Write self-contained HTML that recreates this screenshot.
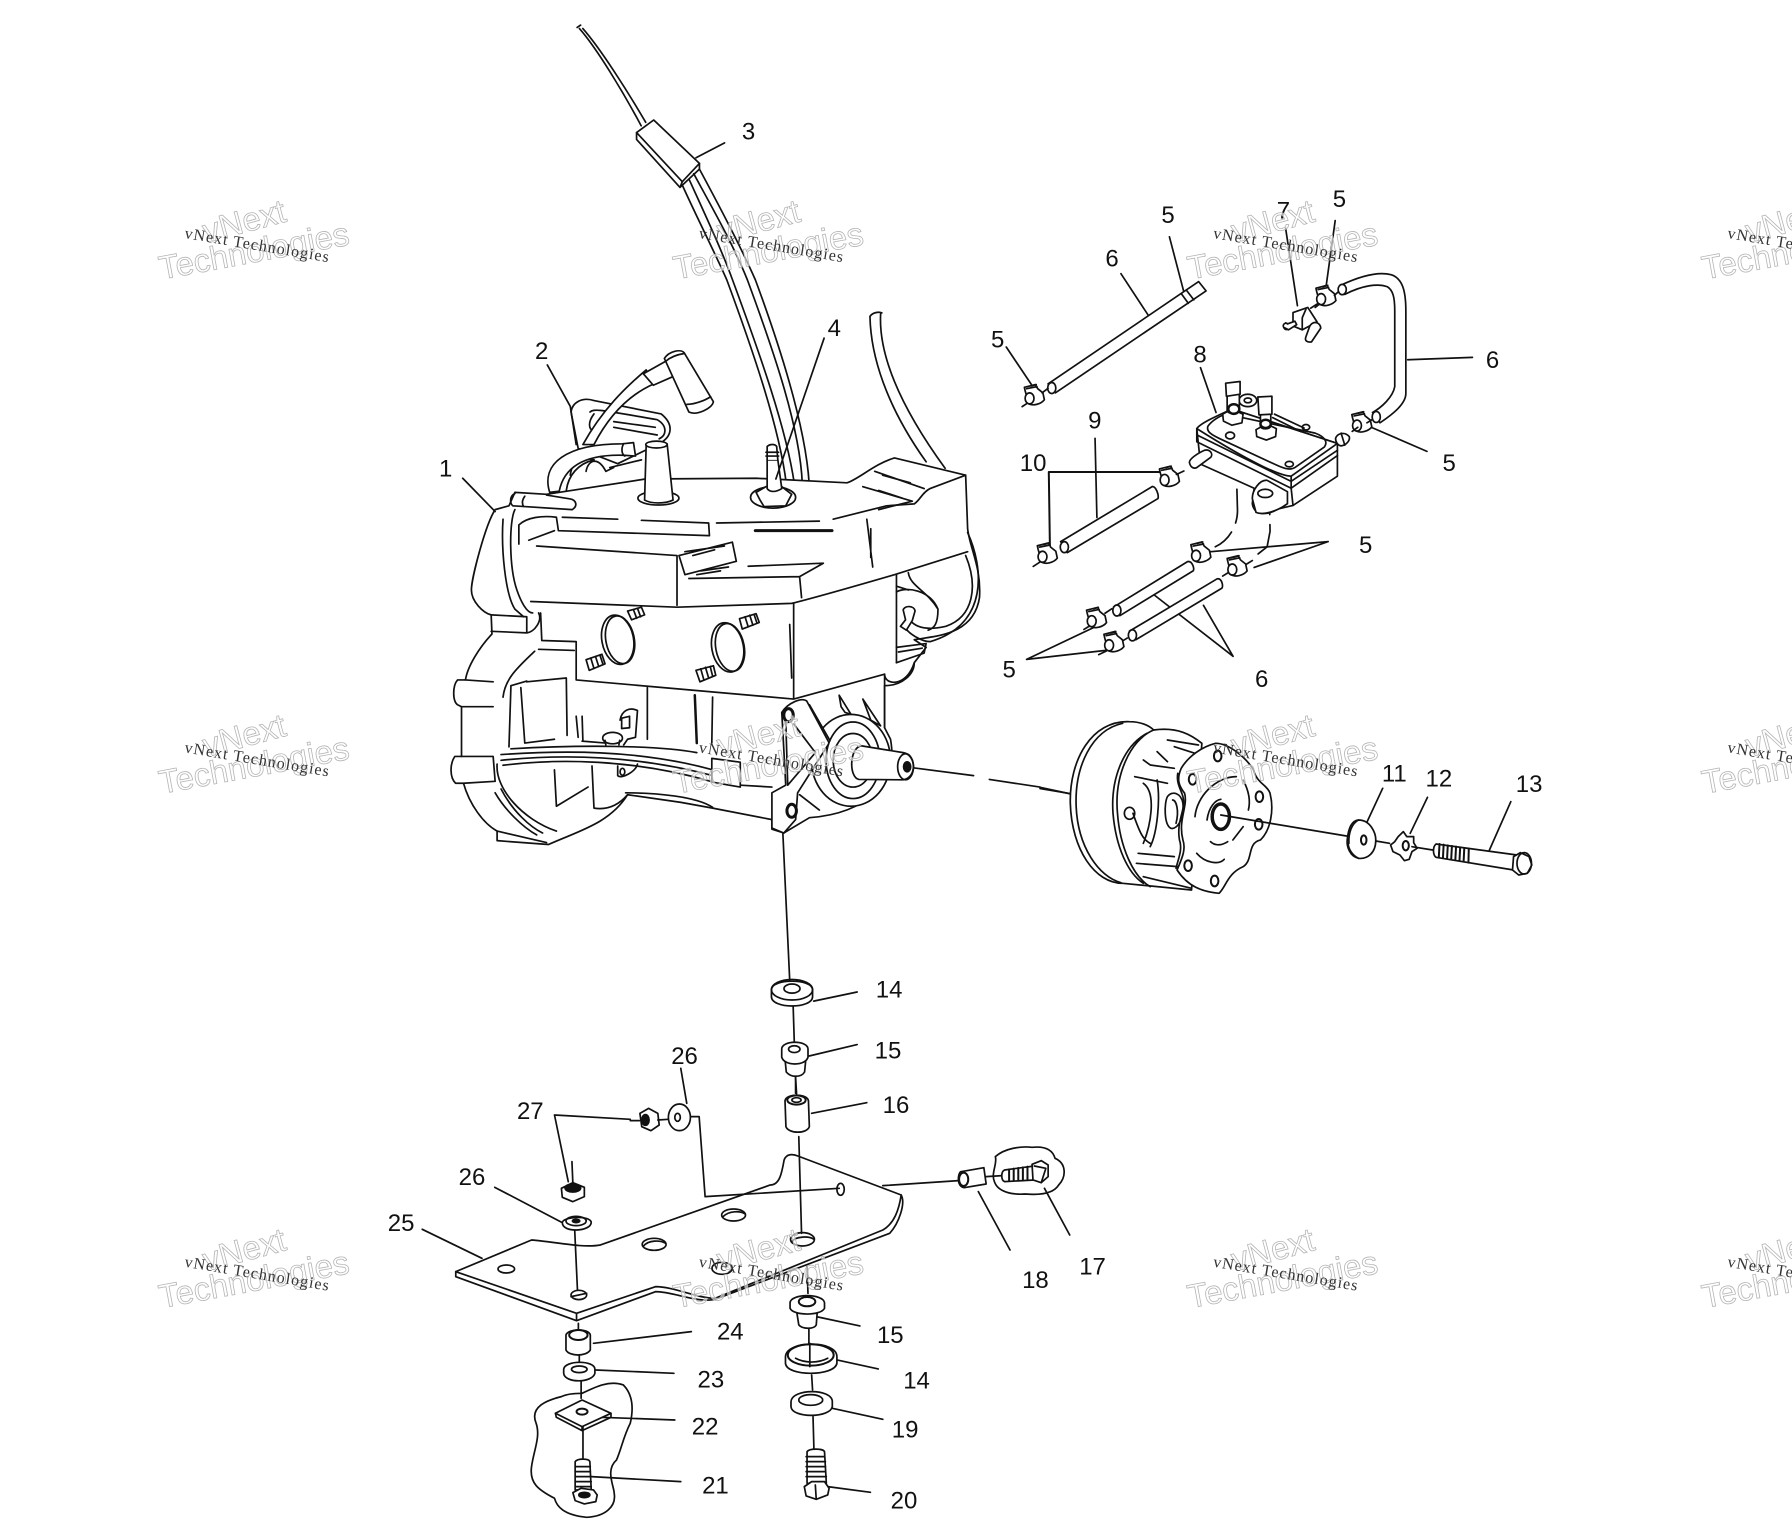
<!DOCTYPE html>
<html><head><meta charset="utf-8"><style>
html,body{margin:0;padding:0;background:#fff}
svg{display:block}
path,ellipse,line,polygon,polyline,rect,circle{vector-effect:non-scaling-stroke}
.w{fill:#fff}
.k{fill:#111}
.lab{font-family:"Liberation Sans",sans-serif;font-size:21px;fill:#111;stroke:none;text-anchor:middle}
.big{font-family:"Liberation Sans",sans-serif;font-size:33px;fill:#fff;fill-opacity:.6;stroke:#b5b5b5;stroke-width:.8;text-anchor:middle}
.sm{font-family:"Liberation Serif",serif;font-size:16px;fill:#333;stroke:none}
</style></head><body>
<svg xmlns="http://www.w3.org/2000/svg" width="1792" height="1536" viewBox="0 0 1792 1536">
<defs>
<g id="clamp"><path class="w" d="M-24 -16 L-26 -26 L4 -34 L10 -22 L24 -10 L28 10 C18 24 -4 28 -14 22 Z"/><ellipse class="w" cx="-12" cy="6" rx="12" ry="16"/><path d="M-20 -22 L8 -28 M-8 -30 L6 -34"/></g>
</defs>
<rect width="1792" height="1536" fill="#fff"/>
<g fill="none" stroke="#111" stroke-width="1.7" stroke-linecap="round" stroke-linejoin="round">

<!-- overview group : cable, part 3 -->
<g transform="scale(1.142857)">
<path d="M505 24 L508 22 M507 25 C522 42 545 80 561 110 M510 25 C525 42 548 78 565 107"/>
<path class="w" d="M557 116 L572 105 L612 143 L597 159 Z"/>
<path d="M557 116 L557 122 L595 164 L597 159 M595 164 L612 148 L612 143"/>
<path d="M597 162 C612 195 625 220 636 245 C660 310 682 375 688 423"/>
<path d="M603 157 C618 190 632 220 641 245 C665 310 688 375 695 423"/>
<path d="M607 152 C625 185 642 215 654 245 C678 310 700 375 702 423"/>
<path d="M612 148 C632 185 650 220 661 245 C685 310 705 375 708 423"/>
<line x1="634" y1="125" x2="609" y2="138"/>
</g>

<!-- Z1 engine -->
<g transform="translate(420 280) scale(.3954 .3827)">
<path d="M1138 95 C1140 200 1180 330 1280 475 M1165 88 C1160 180 1200 310 1328 492 M1138 95 C1145 85 1160 82 1168 86"/>
<!-- flange behind -->
<path class="w" d="M382 345 C385 320 410 305 440 315 L610 350 C640 375 640 405 610 425 L500 480 L400 440 Z"/>
<path d="M430 345 C440 335 460 340 600 365 C625 380 625 405 605 415 M490 385 L600 405 M490 370 L595 385 M440 350 C425 370 425 390 440 395 M420 500 C425 470 450 460 470 500 L490 490 M380 510 C385 470 410 460 440 470 M480 490 L560 470"/>
<!-- plug wire -->
<path class="w" d="M412 430 C460 340 520 280 572 235 L590 272 C530 300 480 350 440 430 Z"/>
<path class="w" d="M565 245 L622 212 L645 250 L590 275 Z"/>
<path class="w" d="M618 205 C630 185 660 180 668 190 L742 318 C740 335 700 355 680 345 Z"/>
<path d="M622 212 C635 200 650 195 668 192 M675 325 C695 325 720 315 735 305"/>
<!-- engine body -->
<path class="w" d="M190 600 C165 640 130 780 130 810 C130 840 160 870 180 875 L182 925 C150 960 120 1010 115 1045 L95 1045 C82 1060 82 1100 95 1110 L105 1115 L105 1245 L88 1245 C75 1265 75 1300 90 1315 L110 1315 C125 1370 160 1420 195 1440 L195 1465 L325 1475 C400 1440 480 1420 525 1345 L660 1365 L740 1380 L890 1410 L890 1435 L920 1445 L985 1405 C1050 1400 1110 1380 1150 1340 C1190 1310 1200 1260 1190 1200 L1175 1170 L1175 1060 C1220 1060 1250 1030 1250 1000 L1280 960 L1250 940 C1300 930 1400 930 1415 830 C1420 750 1390 700 1385 650 L1380 510 L1200 465 C1150 480 1110 520 1080 530 L850 518 L570 520 L320 560 L240 555 L225 590 Z"/>
<!-- hose loop -->
<path class="w" d="M328 555 C305 480 370 428 512 428 L540 425 L545 460 L515 458 C420 455 365 485 352 552 Z"/>
<path d="M515 428 C508 440 510 455 518 460 M370 550 C375 510 400 480 440 470"/>
<!-- spout -->
<ellipse class="w" cx="603" cy="570" rx="52" ry="18"/>
<path class="w" d="M572 432 L625 428 L640 575 C620 585 585 585 568 575 Z"/>
<ellipse class="w" cx="598" cy="430" rx="27" ry="9"/>
<!-- fitting 4 -->
<ellipse class="w" cx="893" cy="568" rx="57" ry="28"/>
<path class="w" d="M860 575 L850 555 L875 540 L915 540 L940 560 L925 590 L870 592 Z"/>
<path class="w" d="M878 470 L905 470 L915 545 C900 555 885 555 878 545 Z"/>
<path class="w" d="M878 470 L878 435 C885 428 898 428 902 435 L905 470"/>
<path d="M875 450 L907 450 M875 460 L907 460"/>
<line x1="1022" y1="152" x2="900" y2="520"/>
<!-- head -->
<path d="M210 625 C205 700 215 820 240 860 L262 880 M240 600 C225 630 225 750 245 810 C255 840 270 870 285 870"/>
<path d="M250 690 L250 640 C270 620 310 615 345 620 L350 655 L730 668 M360 620 L500 625 M560 628 L730 635 L732 668 M275 680 L340 655"/>
<path d="M295 695 L650 720 L650 850 M655 720 L790 685 L800 735 L670 770 L655 720 M670 710 L770 695 M690 720 L745 705"/>
<path d="M680 780 L960 775 L1020 740 L830 748 M960 775 L965 830 M710 760 L780 750 M700 770 L760 760"/>
<path d="M235 590 L385 600 C400 590 395 575 380 572 L320 562 M240 558 C225 565 228 585 235 590 M265 565 C258 575 258 585 262 592"/>
<path d="M750 635 L1010 630 M1045 625 L1180 590 L1250 585 C1265 575 1270 555 1290 545 L1380 510"/>
<line x1="848" y1="655" x2="1042" y2="655" stroke-width="3"/>
<path d="M1130 625 L1145 750 M1140 650 L1140 725"/>
<path d="M1120 540 L1245 578 L1160 600 M1150 500 L1275 545 M1170 510 L1240 530 M1160 550 L1220 570"/>
<path d="M280 840 L650 855 L940 845 C1000 830 1100 800 1200 770 L1385 710"/>
<path d="M270 880 L180 875 M180 918 L270 922 L270 880 M270 922 C290 920 310 890 300 870"/>
<!-- block -->
<path d="M305 870 L308 942 L395 945 L395 1045 L945 1095 M945 845 L945 1095 L1175 1030 M1205 770 L1205 1000 M935 900 L940 1040 M300 965 L390 968 M290 970 C250 1010 215 1040 210 1090"/>
<ellipse class="w" cx="500" cy="940" rx="40" ry="65" transform="rotate(-10 500 940)"/>
<ellipse cx="506" cy="940" rx="36" ry="63" transform="rotate(-10 506 940)"/>
<ellipse class="w" cx="778" cy="960" rx="40" ry="65" transform="rotate(-10 778 960)"/>
<ellipse cx="784" cy="960" rx="36" ry="63" transform="rotate(-10 784 960)"/>
<path class="w" d="M525 865 L560 855 L568 875 L535 888 Z"/><path d="M540 862 L548 884 M550 858 L558 880"/>
<path class="w" d="M808 885 L850 872 L858 895 L815 912 Z"/><path d="M822 880 L830 906 M834 876 L842 902 M845 874 L852 896"/>
<path class="w" d="M420 992 L460 978 L468 1003 L428 1020 Z"/><path d="M432 988 L440 1015 M444 984 L452 1010 M455 980 L463 1005"/>
<path class="w" d="M698 1020 L742 1008 L748 1033 L708 1050 Z"/><path d="M710 1016 L718 1045 M722 1012 L730 1040 M734 1010 L740 1035"/>
<!-- right side -->
<path d="M1235 765 C1240 800 1280 810 1310 860 C1310 900 1300 910 1285 915 M1205 800 L1235 810 M1205 815 C1230 800 1290 810 1310 860"/>
<path d="M1385 660 C1425 750 1440 900 1290 945 C1270 945 1235 925 1225 905 M1380 720 C1412 800 1400 880 1330 905 C1300 912 1260 915 1240 890"/>
<path class="w" d="M1222 862 C1225 850 1250 850 1252 865 L1245 890 L1230 915 L1215 905 L1228 888 Z"/>
<path d="M1205 960 L1280 950 L1275 975 L1205 1000 M1210 972 L1270 962"/>
<path d="M1175 1030 C1175 1060 1230 1065 1250 1000"/>
<path d="M1175 1030 L1175 1170"/>
<!-- lower crank -->
<path d="M105 1115 L185 1115 M115 1045 L185 1050 M105 1245 L185 1245 L190 1310 L110 1315"/>
<path d="M270 1050 L370 1040 M230 1060 L225 1220 M255 1065 L265 1210 L340 1200 M230 1060 L270 1048 M370 1040 L372 1190 M575 1065 L575 1200 M740 1090 L738 1210 M395 1140 L400 1195 M410 1140 L412 1205 M410 1205 L470 1210"/>
<line x1="695" y1="1085" x2="700" y2="1210" stroke-width="2.5"/>
<path d="M205 1240 C350 1230 550 1225 740 1280 M205 1255 C350 1240 540 1240 740 1295 M230 1225 C400 1215 600 1215 700 1235 M210 1268 C350 1250 540 1252 735 1310"/>
<path d="M520 1340 C600 1340 700 1350 740 1378 M810 1320 L890 1325"/>
<path d="M506 1150 C510 1125 530 1115 550 1125 L545 1195 L525 1200 L515 1215 M510 1145 L530 1140 L530 1170 L510 1172 Z"/>
<ellipse class="w" cx="487" cy="1197" rx="25" ry="15"/><path d="M468 1203 L470 1215 M505 1203 L503 1215"/>
<path d="M500 1270 L500 1295 C510 1305 545 1285 550 1265"/><ellipse cx="512" cy="1285" rx="6" ry="9"/>
<path class="w" d="M738 1250 L810 1260 L810 1325 L738 1312 Z"/>
<path d="M195 1265 C190 1330 260 1410 345 1440 M205 1330 C235 1390 280 1430 310 1445 M190 1340 C215 1385 260 1430 295 1450 M340 1280 L345 1375 L425 1325 M435 1270 L440 1380 C470 1385 500 1375 525 1345 M195 1440 L320 1470"/>
<!-- PTO -->
<ellipse class="w" cx="1090" cy="1255" rx="100" ry="120"/>
<path class="w" d="M915 1130 C930 1105 965 1090 978 1100 L1035 1210 L955 1340 L950 1410 L920 1445 L890 1432 L890 1340 L925 1320 Z"/>
<ellipse cx="932" cy="1137" rx="12" ry="17" stroke-width="3"/>
<ellipse cx="940" cy="1387" rx="12" ry="17" stroke-width="3"/>
<path d="M985 1110 L1035 1200 M925 1150 L930 1320 L1000 1235 L945 1160 M960 1345 L1010 1385"/>
<path d="M1060 1085 L1090 1135 L1075 1130 L1065 1115 Z M1120 1095 L1165 1165 L1140 1150 Z"/>
<ellipse class="w" cx="1095" cy="1255" rx="68" ry="100"/>
<ellipse cx="1095" cy="1255" rx="50" ry="70"/>
<path class="w" d="M1115 1217 L1222 1235 C1255 1240 1258 1300 1222 1306 L1110 1305 C1085 1300 1085 1225 1115 1217 Z"/>
<ellipse cx="1228" cy="1272" rx="20" ry="34"/>
<ellipse class="k" cx="1232" cy="1272" rx="9" ry="13"/>
<path d="M1250 1275 L1400 1295 M1440 1305 L1568 1325"/>
<line x1="108" y1="518" x2="190" y2="605"/>
<path d="M322 222 L380 330 L395 430"/>
</g>

<!-- continuing centre lines in overview coords -->
<g transform="scale(1.142857)">
<path d="M910 690 L940 695"/>
<path d="M685 729 L691 858 M694 880 L695 912 M696 940 L697 957"/>
<!-- top 14 washer -->
<path class="w" d="M675 866 C675 856 711 856 711 866 L711 872 C711 883 675 883 675 872 Z"/>
<ellipse cx="693" cy="866" rx="18" ry="9"/><ellipse cx="693" cy="865" rx="7" ry="4"/>
<line x1="750" y1="868" x2="712" y2="876"/>
<!-- top 15 -->
<path class="w" d="M687 928 L688 938 C692 943 701 943 704 938 L705 928 Z"/>
<path class="w" d="M684 918 C684 910 707 910 707 918 L707 925 C705 933 686 933 684 925 Z"/>
<ellipse cx="695" cy="918" rx="5" ry="3"/>
<line x1="750" y1="914" x2="708" y2="924"/>
</g>

<!-- Z2 fuel -->
<g transform="translate(960 180) scale(.37 .3444)">
<path d="M566 165 L605 325 M435 272 L512 398 M125 485 L200 605 M880 140 L912 365 M1014 118 L988 320 M650 545 L692 675 M1385 515 L1210 522 M1262 788 L1105 715 M365 750 L370 980 M995 1050 L670 1080 M995 1050 L795 1125 M180 1392 L360 1300 M180 1392 L400 1365 M738 1383 L525 1205 M738 1383 L658 1235"/>
<path d="M545 848 L240 848 L243 1065" stroke-width="2"/>
<!-- tube top -->
<path class="w" d="M238 592 L645 295 L665 322 L258 618 Z"/><ellipse class="w" cx="248" cy="604" rx="11" ry="16"/>
<path d="M598 330 L617 358 M612 320 L632 348"/>
<use href="#clamp" x="200" y="628"/><path d="M168 658 L182 648 M222 618 L238 605"/>
<!-- hose -->
<path class="w" d="M1030 305 C1080 280 1130 265 1165 275 C1195 285 1205 320 1205 380 L1205 620 C1205 650 1170 680 1135 705 L1115 675 C1140 660 1170 630 1175 600 L1175 380 C1175 340 1170 320 1155 310 C1130 300 1090 305 1040 332 Z"/>
<ellipse class="w" cx="1033" cy="318" rx="11" ry="15"/><ellipse class="w" cx="1125" cy="688" rx="11" ry="16"/>
<use href="#clamp" x="988" y="340"/><use href="#clamp" x="1085" y="707"/>
<path d="M1012 335 L1022 325 M1100 705 L1115 695 M1060 730 L1075 718"/>
<!-- valve 7 -->
<path class="w" d="M900 385 L940 370 L965 412 L925 435 L880 415 L875 428 C880 440 895 432 900 420 Z"/>
<path d="M925 400 L935 375 M925 400 L925 435 M948 372 L968 358 M960 370 L972 360"/>
<path class="w" d="M945 425 C955 405 975 415 975 430 L950 470 C940 472 930 468 935 455 Z"/>
<path class="w" d="M875 428 C870 420 880 412 885 418 L905 410 L910 420 L888 435 Z"/>
<!-- tube 9 -->
<path class="w" d="M272 1050 L520 890 C530 890 538 915 535 925 L290 1082 Z"/><ellipse class="w" cx="282" cy="1066" rx="11" ry="16"/>
<use href="#clamp" x="565" y="865"/><use href="#clamp" x="235" y="1088"/>
<path d="M585 855 L605 845 M198 1122 L215 1110"/>
<!-- lower tubes -->
<path class="w" d="M415 1240 L615 1108 C628 1105 635 1130 630 1135 L432 1265 Z"/><ellipse class="w" cx="424" cy="1250" rx="11" ry="16"/>
<path class="w" d="M458 1310 L695 1158 C708 1155 712 1180 708 1185 L475 1335 Z"/><ellipse class="w" cx="466" cy="1322" rx="11" ry="16"/>
<use href="#clamp" x="650" y="1085"/><use href="#clamp" x="748" y="1125"/><use href="#clamp" x="368" y="1275"/><use href="#clamp" x="415" y="1345"/>
<path d="M392 1258 L410 1245 M335 1305 L350 1295 M375 1378 L395 1368 M440 1338 L452 1330 M710 1150 L725 1140 M775 1115 L790 1105"/>
<!-- dashes -->
<path d="M745 770 L750 960 C750 1000 730 1045 690 1065" stroke-dasharray="34 10"/>
<path d="M833 745 L838 1020 L830 1065 L795 1095" stroke-dasharray="34 10"/>
<!-- filter 8 -->
<path class="w" d="M640 722 L650 825 L795 895 L790 940 C795 975 830 975 860 955 L900 945 L1020 860 L1020 765 L735 665 Z"/>
<path class="w" d="M640 722 C650 705 705 680 735 665 L1020 765 L895 860 C870 860 800 830 640 722 Z"/>
<path d="M640 722 L640 760 L895 895 L1020 800 M895 860 L895 895 M640 740 L895 875 L1020 785"/>
<path d="M670 715 C680 700 700 685 720 680 L960 735 C985 745 995 760 985 775 L905 835 C890 845 870 835 850 825 L700 750 C680 740 665 730 670 715 Z"/>
<path d="M895 895 L900 945 M850 680 L930 720 M845 690 L920 730"/>
<path class="w" d="M790 925 C790 900 810 870 830 872 L885 905 L885 940 C860 960 820 975 800 965 Z"/>
<ellipse cx="825" cy="910" rx="20" ry="12"/>
<ellipse cx="890" cy="825" rx="11" ry="8"/><ellipse cx="935" cy="718" rx="10" ry="8"/><ellipse cx="730" cy="742" rx="12" ry="10"/>
<ellipse cx="778" cy="640" rx="24" ry="18"/><ellipse cx="778" cy="640" rx="10" ry="7"/>
<path class="w" d="M710 680 L735 665 L765 680 L762 705 L735 712 L712 700 Z"/>
<path class="w" d="M722 620 L755 620 L755 670 C750 680 725 680 722 670 Z"/>
<path class="w" d="M718 590 L757 585 L757 622 L720 628 Z"/>
<ellipse cx="740" cy="665" rx="15" ry="14" stroke-width="2.5"/>
<path class="w" d="M800 725 L828 708 L855 722 L853 745 L828 755 L802 745 Z"/>
<path class="w" d="M812 675 L840 675 L840 715 C835 725 815 725 812 715 Z"/>
<path class="w" d="M805 630 L843 628 L843 680 L808 682 Z"/>
<ellipse cx="826" cy="708" rx="14" ry="12" stroke-width="2.5"/>
<path class="w" d="M620 820 C620 810 640 795 660 785 C675 780 685 795 678 805 L640 835 C630 840 622 832 620 820 Z"/>
<path class="w" d="M1015 750 C1020 735 1040 730 1052 745 C1055 755 1045 770 1030 772 C1020 770 1015 760 1015 750 Z"/>
<path d="M1030 735 L1040 770"/>
</g>

<!-- Z3 clutch -->
<g transform="translate(1040 700) scale(.3444 .3333)">
<path d="M0 262 L90 282"/>
<path class="w" d="M260 65 C150 60 85 180 88 310 C92 450 160 550 240 550 L440 570 L470 130 C440 105 400 80 330 90 C315 75 290 65 260 65 Z"/>
<path d="M240 70 C150 90 100 200 105 320 C110 440 170 530 235 548 M330 90 C260 120 215 230 225 340 C232 440 270 530 320 560 M310 100 C240 140 205 240 212 340 C220 440 255 520 300 550"/>
<path d="M300 180 L320 195 L390 205 M340 155 L370 185 M370 120 L460 135 M390 140 L450 160 M275 230 L370 250 M300 250 C340 280 320 380 300 430 M270 340 C290 400 300 420 320 430 M340 240 C350 300 340 400 320 440 M285 460 L390 470 M280 490 L400 500 M300 530 L440 565 M260 340 m-15 0 a15 18 0 1 0 30 0 a15 18 0 1 0 -30 0"/>
<path d="M370 290 C385 270 410 280 415 310 C420 350 400 390 380 385 C360 375 360 310 370 290 Z M385 300 C395 300 405 330 395 370"/>
<path class="w" d="M510 130 C470 140 430 170 410 205 C395 240 405 260 420 280 C430 320 400 360 415 420 C425 450 410 480 398 510 C430 560 470 575 520 580 C540 560 545 520 590 500 C620 480 600 430 640 420 C670 390 680 330 668 280 C660 255 630 250 620 210 C600 175 550 130 510 130 Z"/>
<path d="M400 220 C395 250 410 270 415 290 C425 330 395 360 405 420 C415 450 400 480 395 505"/>
<ellipse cx="516" cy="168" rx="11" ry="16" stroke-width="2"/><ellipse cx="443" cy="238" rx="11" ry="16" stroke-width="2"/><ellipse cx="637" cy="290" rx="11" ry="16" stroke-width="2"/><ellipse cx="635" cy="373" rx="11" ry="16" stroke-width="2"/><ellipse cx="430" cy="497" rx="11" ry="16" stroke-width="2"/><ellipse cx="507" cy="543" rx="11" ry="16" stroke-width="2"/>
<ellipse cx="525" cy="350" rx="25" ry="38" stroke-width="3.5"/>
<path d="M450 350 C455 290 510 230 570 230 M590 240 C610 280 610 310 605 330 M485 360 C490 320 510 300 525 298 M495 425 C510 440 530 435 545 425 M455 460 C480 490 520 495 535 478 M560 420 L590 380"/>
<path d="M525 345 L890 408"/>
<path class="w" d="M925 360 C960 360 975 400 975 420 C975 460 950 478 925 475 C900 470 890 440 892 420 C895 385 905 362 925 360 Z"/>
<path d="M925 360 C905 370 895 400 897 430 M925 475 C905 465 895 445 895 430"/>
<ellipse cx="940" cy="420" rx="8" ry="14" stroke-width="2"/>
<path d="M975 423 L1015 430"/>
<path class="w" d="M1040 410 L1055 395 L1065 410 L1085 410 L1085 428 L1095 445 L1080 455 L1072 478 L1058 482 L1045 465 L1025 455 L1018 435 L1030 425 Z"/>
<ellipse cx="1062" cy="437" rx="9" ry="14" stroke-width="2"/>
<path d="M1080 440 L1140 450"/>
<path class="w" d="M1150 432 L1385 465 L1375 510 L1150 472 C1140 465 1140 440 1150 432 Z"/>
<path d="M1160 432 L1158 472 M1172 434 L1170 474 M1184 436 L1182 476 M1196 438 L1194 478 M1208 440 L1206 480 M1220 442 L1218 482 M1232 444 L1230 484 M1245 446 L1244 488" stroke-width="2"/>
<path class="w" d="M1375 470 L1395 458 L1420 470 L1428 495 L1415 520 L1390 525 L1372 510 Z"/>
<ellipse cx="1406" cy="490" rx="21" ry="32"/>
<path d="M995 265 L950 365 M1125 292 L1075 400 M1367 305 L1305 450"/>
</g>

<!-- Z4 bottom -->
<g transform="translate(380 1060) scale(.4592 .3333)">
<path d="M905 50 L905 100 M930 620 L932 700 M934 805 L934 850 M940 945 L942 990 M943 1070 L945 1170"/>
<path d="M418 305 L420 370 M432 790 L432 810 M434 880 L434 905 M438 965 L438 1015 M442 1100 L442 1195"/>
<!-- cloud 22/21 -->
<path d="M440 1000 C470 980 500 960 530 975 C555 1010 550 1060 545 1090 C530 1130 525 1170 515 1200 C490 1230 510 1280 510 1300 C515 1340 490 1370 450 1372 C400 1365 385 1340 380 1315 C345 1290 325 1270 330 1220 C335 1170 350 1130 340 1090 C325 1040 365 1020 395 1010 C410 1000 430 1000 440 1000 Z"/>
<!-- cloud 17 -->
<path d="M1340 290 C1360 265 1395 258 1420 262 C1450 258 1465 270 1470 295 C1495 310 1495 350 1478 375 C1465 405 1430 405 1405 402 C1375 405 1345 395 1338 365 C1330 340 1345 310 1340 290 Z"/>
<path class="w" d="M165 635 L330 540 C380 545 440 565 480 555 L850 375 C870 375 875 340 880 300 C885 280 900 282 910 288 L1135 405 C1145 430 1130 490 1110 520 L730 718 C690 730 640 695 600 695 L428 782 L165 650 Z"/>
<path d="M165 635 L428 760 L600 680 C640 680 690 715 730 715 L1095 510 C1120 490 1130 450 1135 405 M428 760 L428 782"/>
<ellipse cx="275" cy="627" rx="18" ry="12"/><ellipse cx="433" cy="705" rx="17" ry="14"/><path d="M416 710 L450 700"/>
<ellipse cx="597" cy="553" rx="26" ry="18"/><path d="M574 558 C585 540 610 540 622 550"/>
<ellipse cx="770" cy="465" rx="26" ry="18"/><path d="M747 470 C760 452 785 452 795 462"/>
<ellipse cx="920" cy="538" rx="26" ry="20"/><path d="M897 545 C905 528 935 528 945 538"/>
<ellipse cx="745" cy="625" rx="22" ry="18"/>
<ellipse cx="1003" cy="388" rx="8" ry="18"/>
<!-- axes over the plate -->
<path d="M912 230 L918 520 M424 510 L430 690"/>
<path d="M1095 377 L1260 362 M1320 350 L1355 347"/>
<path d="M380 165 L545 178 M380 165 L410 365 M670 170 L695 170 L708 410 L1000 385"/>
<path d="M655 25 L668 130 M250 382 L400 490 M92 508 L222 595 M1060 128 L940 160 M1303 395 L1372 570 M1447 385 L1502 525 M678 815 L465 850 M640 940 L470 930 M642 1080 L480 1072 M655 1265 L460 1250 M1045 798 L950 770 M1085 927 L985 897 M1095 1078 L985 1045 M1068 1297 L975 1280"/>
<!-- 16 -->
<path class="w" d="M882 122 C885 100 930 100 933 122 L935 200 C930 222 890 222 884 200 Z"/><ellipse cx="907" cy="120" rx="20" ry="14" stroke-width="2"/><ellipse cx="907" cy="120" rx="10" ry="7"/>
<!-- nut + washer horiz -->
<path class="w" d="M566 160 L585 145 L605 160 L608 195 L590 212 L570 200 Z"/><ellipse class="k" cx="578" cy="180" rx="8" ry="16"/>
<path d="M545 182 L565 182 M605 180 L628 178"/>
<ellipse class="w" cx="652" cy="172" rx="24" ry="40"/><ellipse cx="648" cy="172" rx="6" ry="12"/>
<!-- nut 27 vert -->
<path class="w" d="M395 385 L420 368 L445 382 L445 410 L420 425 L397 412 Z"/><ellipse class="k" cx="420" cy="384" rx="17" ry="12"/>
<!-- washer 26 -->
<path class="w" d="M397 488 C397 470 458 465 460 487 C460 515 397 520 397 488 Z"/><ellipse cx="427" cy="483" rx="22" ry="14"/><ellipse class="k" cx="427" cy="483" rx="8" ry="5"/>
<!-- 15 lower -->
<path class="w" d="M908 760 L912 795 C920 808 945 808 950 795 L952 760 Z"/>
<path class="w" d="M893 728 C895 700 965 700 968 728 L968 745 C960 768 900 768 893 745 Z"/>
<ellipse cx="930" cy="725" rx="18" ry="14" stroke-width="2"/>
<!-- 14 lower -->
<path class="w" d="M883 890 C885 840 995 840 995 890 L995 910 C990 950 885 950 883 910 Z"/>
<ellipse cx="938" cy="885" rx="50" ry="32" stroke-width="2"/><path d="M905 895 C925 910 955 910 975 895"/>
<line x1="936" y1="850" x2="936" y2="920"/>
<!-- 19 -->
<path class="w" d="M895 1025 C897 985 985 985 985 1025 L985 1040 C980 1075 897 1075 895 1040 Z"/>
<ellipse cx="938" cy="1020" rx="26" ry="16"/>
<!-- 20 -->
<path class="w" d="M930 1175 C935 1165 965 1165 968 1175 L972 1270 L930 1270 Z"/>
<path d="M928 1190 L968 1190 M928 1205 L970 1205 M928 1220 L970 1220 M928 1235 L970 1235 M928 1250 L972 1250"/>
<path class="w" d="M924 1280 L940 1265 L968 1265 L978 1285 L975 1305 L950 1318 L928 1308 Z"/><path d="M948 1275 L950 1318"/>
<!-- 24 -->
<path class="w" d="M405 825 C410 805 455 805 458 825 L458 870 C450 890 412 890 405 870 Z"/><ellipse cx="432" cy="825" rx="20" ry="15" stroke-width="2"/>
<!-- 23 -->
<path class="w" d="M400 928 C402 900 468 900 468 928 L468 940 C462 970 402 970 400 940 Z"/><ellipse cx="434" cy="928" rx="17" ry="10"/>
<!-- 22 -->
<path class="w" d="M382 1060 L440 1020 L503 1060 L440 1100 Z"/><path d="M382 1060 L384 1072 L440 1112 L503 1072 L503 1060 M440 1100 L440 1112"/>
<ellipse cx="440" cy="1055" rx="12" ry="9" stroke-width="2"/>
<!-- 21 -->
<path class="w" d="M425 1205 C430 1195 455 1195 457 1205 L460 1290 L425 1290 Z"/>
<path d="M425 1220 L458 1220 M425 1235 L458 1235 M425 1250 L460 1250 M425 1265 L460 1265 M425 1280 L460 1280"/>
<path class="w" d="M420 1298 L438 1285 L465 1290 L473 1305 L470 1325 L445 1332 L425 1322 Z"/><ellipse class="k" cx="445" cy="1305" rx="12" ry="8"/>
<!-- 18 -->
<path class="w" d="M1265 335 L1315 323 L1320 372 L1272 383 C1255 380 1258 340 1265 335 Z"/><ellipse cx="1271" cy="358" rx="10" ry="20" stroke-width="2"/>
<!-- 17 -->
<path class="w" d="M1360 330 L1425 318 L1425 360 L1360 365 C1352 360 1352 335 1360 330 Z"/>
<path d="M1370 328 L1370 362 M1380 326 L1380 362 M1390 324 L1390 362 M1400 322 L1400 362 M1410 320 L1410 360" stroke-width="2"/>
<path class="w" d="M1420 313 L1440 302 L1455 315 L1455 350 L1440 368 L1422 360 Z"/><path d="M1425 318 L1450 325 L1440 368"/>
</g>

<!-- labels -->
<g transform="scale(1.142857)">
<text class="lab" x="655" y="122">3</text><text class="lab" x="474" y="314">2</text><text class="lab" x="730" y="294">4</text><text class="lab" x="390" y="417">1</text>
<text class="lab" x="1022" y="195">5</text><text class="lab" x="973" y="233">6</text><text class="lab" x="1123" y="191">7</text><text class="lab" x="1172" y="181">5</text>
<text class="lab" x="873" y="304">5</text><text class="lab" x="1050" y="317">8</text><text class="lab" x="1306" y="322">6</text><text class="lab" x="958" y="375">9</text>
<text class="lab" x="904" y="412">10</text><text class="lab" x="1268" y="412">5</text><text class="lab" x="1195" y="484">5</text><text class="lab" x="883" y="593">5</text>
<text class="lab" x="1104" y="601">6</text><text class="lab" x="1220" y="684">11</text><text class="lab" x="1259" y="688">12</text><text class="lab" x="1338" y="693">13</text>
<text class="lab" x="778" y="873">14</text><text class="lab" x="777" y="926">15</text><text class="lab" x="784" y="974">16</text><text class="lab" x="599" y="931">26</text>
<text class="lab" x="464" y="979">27</text><text class="lab" x="413" y="1037">26</text><text class="lab" x="351" y="1077">25</text><text class="lab" x="906" y="1127">18</text>
<text class="lab" x="956" y="1115">17</text><text class="lab" x="639" y="1172">24</text><text class="lab" x="779" y="1175">15</text><text class="lab" x="622" y="1214">23</text>
<text class="lab" x="802" y="1215">14</text><text class="lab" x="617" y="1255">22</text><text class="lab" x="792" y="1258">19</text><text class="lab" x="626" y="1307">21</text><text class="lab" x="791" y="1320">20</text>
</g>
</g>

<!-- watermarks -->
<g><text class="big" transform="translate(247 232) rotate(-15)">vNext</text><text class="big" transform="translate(256 262) rotate(-10.5)">Technologies</text><text class="sm" transform="translate(184 238) rotate(9.5)" textLength="146">vNext Technologies</text></g>
<g transform="translate(514.3 0)"><text class="big" transform="translate(247 232) rotate(-15)">vNext</text><text class="big" transform="translate(256 262) rotate(-10.5)">Technologies</text><text class="sm" transform="translate(184 238) rotate(9.5)" textLength="146">vNext Technologies</text></g>
<g transform="translate(1028.6 0)"><text class="big" transform="translate(247 232) rotate(-15)">vNext</text><text class="big" transform="translate(256 262) rotate(-10.5)">Technologies</text><text class="sm" transform="translate(184 238) rotate(9.5)" textLength="146">vNext Technologies</text></g>
<g transform="translate(1542.9 0)"><text class="big" transform="translate(247 232) rotate(-15)">vNext</text><text class="big" transform="translate(256 262) rotate(-10.5)">Technologies</text><text class="sm" transform="translate(184 238) rotate(9.5)" textLength="146">vNext Technologies</text></g>
<g transform="translate(0 514.3)"><text class="big" transform="translate(247 232) rotate(-15)">vNext</text><text class="big" transform="translate(256 262) rotate(-10.5)">Technologies</text><text class="sm" transform="translate(184 238) rotate(9.5)" textLength="146">vNext Technologies</text></g>
<g transform="translate(514.3 514.3)"><text class="big" transform="translate(247 232) rotate(-15)">vNext</text><text class="big" transform="translate(256 262) rotate(-10.5)">Technologies</text><text class="sm" transform="translate(184 238) rotate(9.5)" textLength="146">vNext Technologies</text></g>
<g transform="translate(1028.6 514.3)"><text class="big" transform="translate(247 232) rotate(-15)">vNext</text><text class="big" transform="translate(256 262) rotate(-10.5)">Technologies</text><text class="sm" transform="translate(184 238) rotate(9.5)" textLength="146">vNext Technologies</text></g>
<g transform="translate(1542.9 514.3)"><text class="big" transform="translate(247 232) rotate(-15)">vNext</text><text class="big" transform="translate(256 262) rotate(-10.5)">Technologies</text><text class="sm" transform="translate(184 238) rotate(9.5)" textLength="146">vNext Technologies</text></g>
<g transform="translate(0 1028.6)"><text class="big" transform="translate(247 232) rotate(-15)">vNext</text><text class="big" transform="translate(256 262) rotate(-10.5)">Technologies</text><text class="sm" transform="translate(184 238) rotate(9.5)" textLength="146">vNext Technologies</text></g>
<g transform="translate(514.3 1028.6)"><text class="big" transform="translate(247 232) rotate(-15)">vNext</text><text class="big" transform="translate(256 262) rotate(-10.5)">Technologies</text><text class="sm" transform="translate(184 238) rotate(9.5)" textLength="146">vNext Technologies</text></g>
<g transform="translate(1028.6 1028.6)"><text class="big" transform="translate(247 232) rotate(-15)">vNext</text><text class="big" transform="translate(256 262) rotate(-10.5)">Technologies</text><text class="sm" transform="translate(184 238) rotate(9.5)" textLength="146">vNext Technologies</text></g>
<g transform="translate(1542.9 1028.6)"><text class="big" transform="translate(247 232) rotate(-15)">vNext</text><text class="big" transform="translate(256 262) rotate(-10.5)">Technologies</text><text class="sm" transform="translate(184 238) rotate(9.5)" textLength="146">vNext Technologies</text></g>
</svg>
</body></html>
